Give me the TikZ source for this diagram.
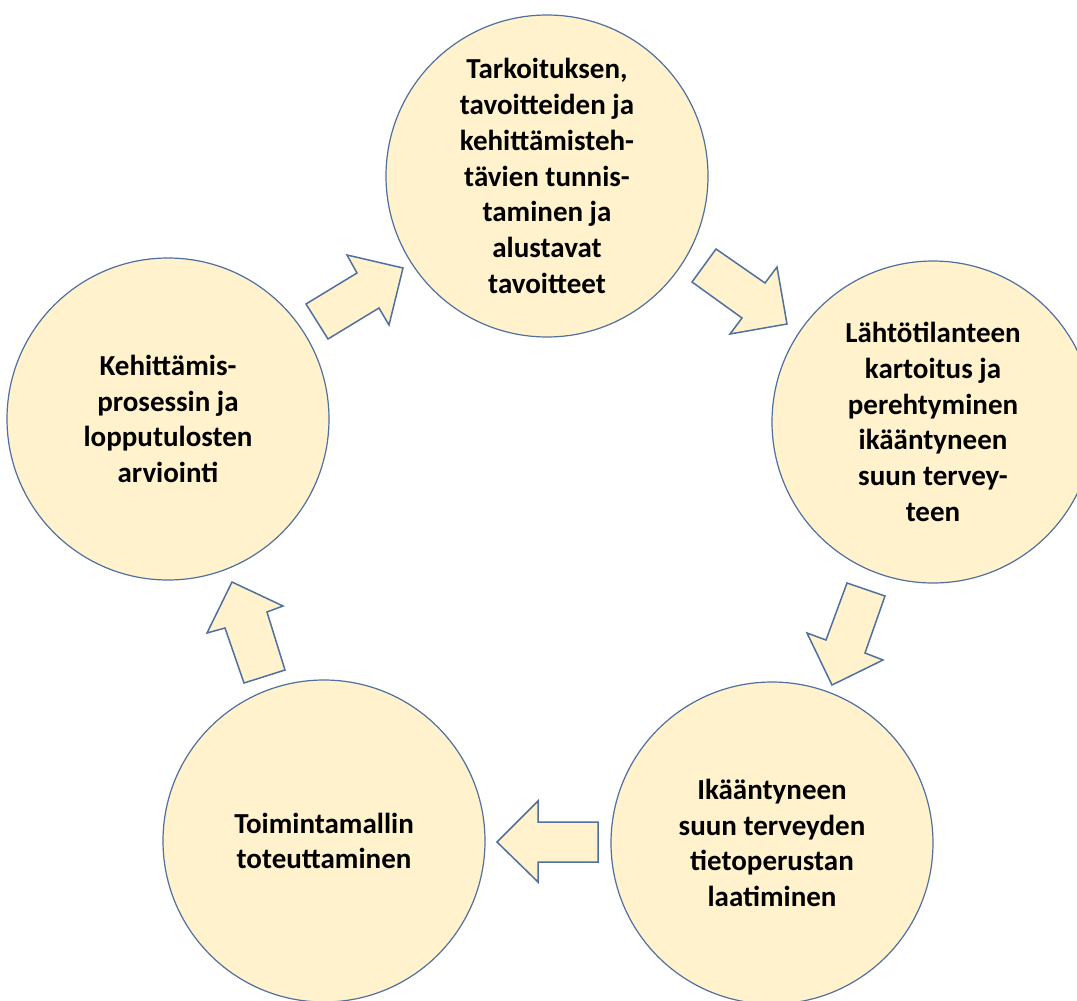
\documentclass[tikz,border=0pt]{standalone}
\usepackage{fontspec}
\setmainfont{Carlito}
\definecolor{cfill}{HTML}{FFF2CC}
\definecolor{cline}{HTML}{5070A0}
\begin{document}
\begin{tikzpicture}[x=1pt,y=-1pt,
  stage/.style={circle,draw=cline,line width=1.2pt,fill=cfill,minimum size=322pt,inner sep=0pt,
     align=center,font=\fontsize{29}{35.8}\selectfont\bfseries,text=black},
  blockarrow/.style={draw=cline,line width=1.5pt,fill=cfill,line join=miter}]
\useasboundingbox (0,0) rectangle (1077,1001);
\fill[white] (0,0) rectangle (1077,1001);
\node[stage] (t) at (547,176) {Tarkoituksen,\\tavoitteiden ja\\kehittämisteh-\\tävien tunnis-\\taminen ja\\alustavat\\tavoitteet};
\node[stage] (r) at (933,422) {Lähtötilanteen\\kartoitus ja\\perehtyminen\\ikääntyneen\\suun tervey-\\teen};
\node[stage] (br) at (772,843) {Ikääntyneen\\suun terveyden\\tietoperustan\\laatiminen};
\node[stage] (bl) at (324,841) {Toimintamallin\\toteuttaminen};
\node[stage] (l) at (168,419) {Kehittämis-\\prosessin ja\\lopputulosten\\arviointi};
% block arrows
\draw[blockarrow] (306,304) -- (328,339) -- (379,308) -- (389,325) -- (403,268) -- (347,255) -- (357,273) -- cycle;
\draw[blockarrow] (692,282) -- (716,249) -- (765,283) -- (777,267) -- (787,324) -- (730,334) -- (742,318) -- cycle;
\draw[blockarrow] (847,583) -- (885,596) -- (865,653) -- (883,660) -- (832,685) -- (807,633) -- (826,640) -- cycle;
\draw[blockarrow] (598,822) -- (598,862) -- (538,862) -- (538,882) -- (497,842) -- (538,801) -- (538,822) -- cycle;
\draw[blockarrow] (244,683) -- (285,670) -- (267,612) -- (283,606) -- (232,582) -- (207,633) -- (225,628) -- cycle;
\end{tikzpicture}
\end{document}
